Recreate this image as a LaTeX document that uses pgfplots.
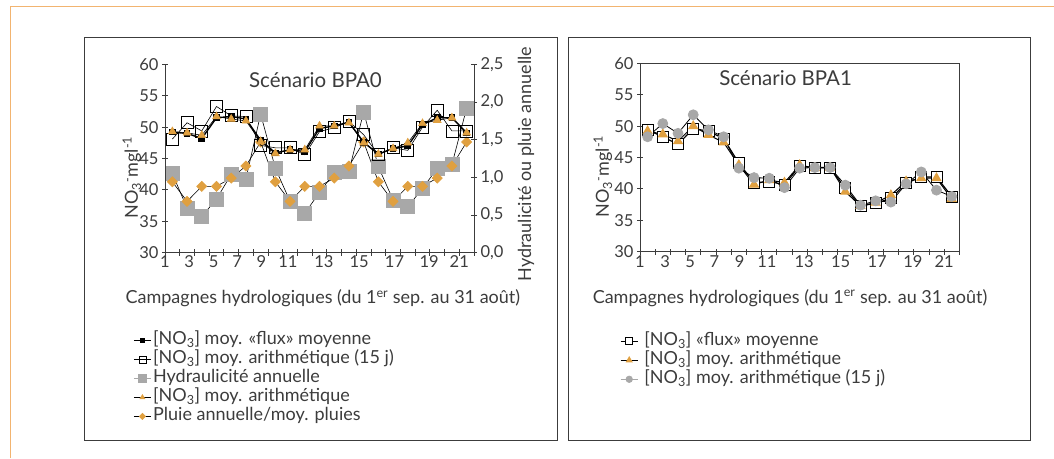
\documentclass[border=0pt]{standalone}
\usepackage{fontspec}
\setmainfont{Lato}
\usepackage{pgfplots}
\pgfplotsset{compat=1.18}
\usepackage{pgfplotstable}

\definecolor{axgray}{HTML}{3C3C3C}
\definecolor{orng}{HTML}{E0A040}
\definecolor{gsq}{HTML}{A8A8A8}
\definecolor{frameor}{HTML}{F2B470}
\newcommand\fs{\fontsize{18}{21}\selectfont}
\newcommand\ts{\fontsize{16.5}{19}\selectfont}
\newcommand\tfs{\fontsize{20.5}{24}\selectfont}

% BPA0, left scale: flux, arith. 15 j, arith.
\pgfplotstableread{
i flux a15 arith
1 49.2 48.1 49.3
2 49.0 50.7 49.1
3 48.2 49.4 48.7
4 51.5 53.3 51.7
5 51.7 51.8 51.3
6 51.3 51.7 51.0
7 47.9 47.1 47.7
8 45.9 46.7 45.8
9 46.4 46.7 46.4
10 46.1 45.6 46.4
11 49.8 49.3 50.2
12 50.2 49.9 50.2
13 50.8 50.9 50.7
14 47.6 48.8 47.5
15 45.7 45.6 45.7
16 46.6 46.7 46.6
17 47.0 46.3 47.5
18 50.4 50.0 50.6
19 51.5 52.7 51.1
20 51.5 49.4 51.5
21 49.1 49.4 49.1
}\bpazero

% BPA0, right scale: hydraulicite, pluie
\pgfplotstableread{
i hydr pluie
1 1.05 0.94
2 0.59 0.68
3 0.48 0.88
4 0.71 0.88
5 1.04 0.99
6 0.98 1.15
7 1.84 1.47
8 1.12 0.94
9 0.68 0.68
10 0.52 0.88
11 0.80 0.88
12 1.06 0.99
13 1.08 1.15
14 1.87 1.47
15 1.14 0.94
16 0.70 0.68
17 0.61 0.88
18 0.85 0.88
19 1.12 0.99
20 1.17 1.15
21 1.92 1.47
}\bpazerohyd

% BPA1: flux, arith., arith. 15 j
\pgfplotstableread{
i flux arith a15
1 49.4 49.2 48.3
2 48.3 48.7 50.4
3 47.1 47.6 48.85
4 49.6 50.0 51.8
5 49.2 48.6 49.4
6 48.0 47.4 48.3
7 44.1 43.8 43.3
8 41.0 40.7 41.8
9 41.15 41.4 41.7
10 40.7 41.0 40.2
11 43.6 43.8 43.3
12 43.4 43.3 43.4
13 43.4 43.4 43.4
14 40.1 39.55 40.6
15 37.3 37.3 37.4
16 37.7 37.8 38.1
17 38.5 39.0 37.9
18 40.9 41.2 40.8
19 41.9 41.7 42.7
20 41.9 41.7 39.8
21 38.8 38.4 38.8
}\bpaone

\pgfplotsset{
  base/.style={
    scale only axis, xmin=0.5, xmax=21.5,
    axis line style={axgray, line width=1pt, -},
    tick align=center, major tick length=6pt,
    tick style={axgray, line width=0.8pt},
    ticklabel style={font=\ts, text=axgray},
    label style={font=\fs, text=axgray},
    title style={font=\tfs, text=axgray},
    xtick={0.5,1.5,...,21.5}, xticklabels={},
    extra x ticks={0.5,2.15,3.8,5.4,7.05,8.85,11.3,13.7,16.1,18.45,20.5},
    extra x tick labels={1,3,5,7,9,11,13,15,17,19,21},
    extra x tick style={major tick length=0pt},
    legend style={draw=none, fill=none, inner sep=0pt, row sep=0pt,
      font=\fs, text=axgray,
      nodes={inner sep=1.5pt, text height=12pt, text depth=4pt}},
    legend cell align=left,
  },
  sflux/.style={black, line width=1.4pt, mark=square*, mark size=2.6pt, mark options={fill=black}},
  sa15/.style={black, line width=0.6pt, mark=square, mark size=6pt, mark options={line width=0.8pt}},
  sar/.style={black, line width=0.6pt, mark=triangle*, mark size=4.5pt, mark options={fill=orng, draw=orng}},
  shyd/.style={black, line width=0.6pt, mark=square*, mark size=7pt, mark options={fill=gsq, draw=gsq}},
  splu/.style={black, line width=0.6pt, mark=square*, mark size=3.6pt, mark options={fill=orng, draw=orng, rotate=45}},
  rflux/.style={black, line width=1.2pt, mark=square*, mark size=5.5pt, mark options={fill=white, draw=black, line width=0.8pt}},
  rar/.style={black, line width=1pt, mark=triangle*, mark size=5pt, mark options={fill=orng, draw=orng}},
  ra15/.style={black, line width=0.8pt, mark=*, mark size=5pt, mark options={fill=gsq, draw=gsq}},
}

\begin{document}
\begin{tikzpicture}
\path[use as bounding box] (0,0) rectangle (1054pt,458pt);
\draw[frameor, line width=1pt] (10pt,0) -- (10pt,451pt) -- (1054pt,451pt);
\draw[axgray, line width=0.9pt] (84pt,18pt) rectangle (557pt,421pt);
\draw[axgray, line width=0.9pt] (568pt,18pt) rectangle (1030pt,421pt);

% BPA0, right scale
\begin{axis}[base, at={(165pt,205.5pt)}, anchor=south west, width=309pt, height=188pt,
  ymin=0, ymax=2.5, axis x line=none, axis y line*=right,
  ytick={0,0.5,1,1.5,2,2.5}, yticklabels={{0,0},{0,5},{1,0},{1,5},{2,0},{2,5}},
  ylabel={Hydraulicité ou pluie annuelle},
  ylabel style={at={(axis description cs:1.168,0.47)}, anchor=center},
  legend style={at={(axis description cs:-0.1036,-0.416)}, anchor=north west}]
\addlegendimage{sflux, mark size=2pt}\addlegendentry{[NO\textsubscript{3}] moy. «flux» moyenne}
\addlegendimage{sa15, mark size=3.5pt}\addlegendentry{[NO\textsubscript{3}] moy. arithmétique (15 j)}
\addlegendimage{gsq, line width=1.4pt, mark=square*, mark size=4pt, mark options={fill=gsq, draw=gsq}}\addlegendentry{Hydraulicité annuelle}
\addlegendimage{sar, mark size=2.8pt}\addlegendentry{[NO\textsubscript{3}] moy. arithmétique}
\addlegendimage{splu, mark size=2.2pt}\addlegendentry{Pluie annuelle/moy. pluies}
\addplot[shyd, forget plot] table[x=i, y=hydr] {\bpazerohyd};
\addplot[splu, forget plot] table[x=i, y=pluie] {\bpazerohyd};
\end{axis}

% BPA0, left scale
\begin{axis}[base, at={(165pt,205.5pt)}, anchor=south west, width=309pt, height=188pt,
  ymin=30, ymax=60, axis x line*=bottom, axis y line*=left,
  ytick={30,35,40,45,50,55,60}, yticklabels={30,35,40,45,50,55,60},
  title={Scénario BPA0}, title style={at={(axis description cs:0.487,0.918)}, anchor=center, yshift=-6pt},
  xlabel={Campagnes hydrologiques (du 1\textsuperscript{er} sep. au 31 août)},
  xlabel style={at={(axis description cs:0.511,-0.242)}, anchor=center},
  ylabel={NO\textsubscript{3}\textsuperscript{-}mgl\textsuperscript{-1}},
  ylabel style={at={(axis description cs:-0.107,0.40)}, anchor=center}]
\addplot[sa15] table[x=i, y=a15] {\bpazero};
\addplot[sflux] table[x=i, y=flux] {\bpazero};
\addplot[sar] table[x=i, y=arith] {\bpazero};
\end{axis}

% BPA1
\begin{axis}[base, at={(640pt,206.3pt)}, anchor=south west, width=319.3pt, height=188.4pt,
  ymin=30, ymax=60, tick pos=left,
  ytick={30,35,40,45,50,55,60}, yticklabels={30,35,40,45,50,55,60},
  title={Scénario BPA1}, title style={at={(axis description cs:0.456,0.92)}, anchor=center, yshift=-6pt},
  xlabel={Campagnes hydrologiques (du 1\textsuperscript{er} sep. au 31 août)},
  xlabel style={at={(axis description cs:0.47,-0.245)}, anchor=center},
  ylabel={NO\textsubscript{3}\textsuperscript{-}mgl\textsuperscript{-1}},
  ylabel style={at={(axis description cs:-0.116,0.40)}, anchor=center},
  legend style={at={(axis description cs:-0.063,-0.424)}, anchor=north west}]
\addlegendimage{rflux, mark size=3.5pt}\addlegendentry{\ [NO\textsubscript{3}] «flux» moyenne}
\addlegendimage{rar, mark size=3.2pt}\addlegendentry{\ [NO\textsubscript{3}] moy. arithmétique}
\addlegendimage{ra15, draw=gsq, mark size=3.2pt}\addlegendentry{\ [NO\textsubscript{3}] moy. arithmétique (15 j)}
\addplot[rflux, forget plot] table[x=i, y=flux] {\bpaone};
\addplot[rar, forget plot] table[x=i, y=arith] {\bpaone};
\addplot[ra15, forget plot] table[x=i, y=a15] {\bpaone};
\end{axis}
\end{tikzpicture}
\end{document}
